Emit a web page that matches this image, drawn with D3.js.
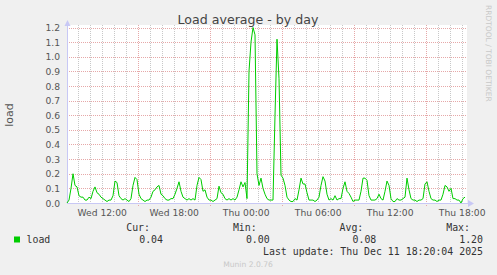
<!DOCTYPE html>
<html>
<head>
<meta charset="utf-8">
<script src="https://cdn.jsdelivr.net/npm/d3@7"></script>
<style>
  body { margin: 0; background: #f0f0f0; }
  svg { display: block; }
</style>
</head>
<body>
<div class="chart"></div>
<script>
// load average, one sample every 10 minutes starting Wed Dec 10 09:04
const startTime = new Date(2025, 11, 10, 9, 4);
const stepMinutes = 10;
const loadValues = [
  0.00, 0.02, 0.10, 0.20, 0.12, 0.11, 0.05, 0.04, 0.04, 0.02,
  0.02, 0.04, 0.03, 0.08, 0.11, 0.07, 0.06, 0.04, 0.03, 0.02,
  0.01, 0.02, 0.02, 0.05, 0.15, 0.14, 0.05, 0.03, 0.02, 0.03,
  0.02, 0.01, 0.03, 0.12, 0.175, 0.16, 0.06, 0.03, 0.02, 0.01,
  0.02, 0.02, 0.04, 0.08, 0.09, 0.11, 0.12, 0.06, 0.05, 0.03,
  0.02, 0.02, 0.03, 0.03, 0.06, 0.10, 0.145, 0.08, 0.04, 0.03,
  0.02, 0.03, 0.02, 0.03, 0.02, 0.12, 0.175, 0.16, 0.08, 0.09,
  0.04, 0.02, 0.02, 0.01, 0.02, 0.03, 0.115, 0.07, 0.06, 0.03,
  0.02, 0.03, 0.02, 0.03, 0.02, 0.04, 0.09, 0.145, 0.11, 0.14,
  0.03, 0.90, 1.10, 1.20, 1.15, 0.20, 0.12, 0.17, 0.10, 0.06,
  0.03, 0.02, 0.02, 0.02, 0.60, 1.12, 0.85, 0.19, 0.17, 0.12,
  0.04, 0.02, 0.01, 0.01, 0.03, 0.02, 0.09, 0.17, 0.13, 0.13,
  0.07, 0.02, 0.02, 0.02, 0.01, 0.02, 0.04, 0.12, 0.18, 0.15,
  0.06, 0.02, 0.03, 0.02, 0.05, 0.02, 0.03, 0.03, 0.10, 0.145,
  0.08, 0.065, 0.04, 0.01, 0.02, 0.02, 0.02, 0.08, 0.17, 0.17,
  0.155, 0.05, 0.02, 0.02, 0.02, 0.03, 0.06, 0.03, 0.02, 0.08,
  0.15, 0.12, 0.03, 0.01, 0.01, 0.03, 0.02, 0.02, 0.03, 0.04,
  0.17, 0.09, 0.03, 0.02, 0.02, 0.01, 0.02, 0.02, 0.03, 0.13,
  0.145, 0.08, 0.03, 0.02, 0.02, 0.01, 0.02, 0.02, 0.06, 0.12,
  0.11, 0.08, 0.10, 0.03, 0.03, 0.02, 0.02, 0.00, 0.03, 0.04
];
const yTicks = [0, 0.1, 0.2, 0.3, 0.4, 0.5, 0.6, 0.7, 0.8, 0.9, 1.0, 1.1, 1.2];
const xLabels = ["Wed 12:00", "Wed 18:00", "Thu 00:00", "Thu 06:00", "Thu 12:00", "Thu 18:00"];
const xLabelTimes = [
  new Date(2025, 11, 10, 12), new Date(2025, 11, 10, 18), new Date(2025, 11, 11, 0),
  new Date(2025, 11, 11, 6), new Date(2025, 11, 11, 12), new Date(2025, 11, 11, 18)
];
const legendHeaders = ["Cur:", "Min:", "Avg:", "Max:"];
const legendValues = ["0.04", "0.00", "0.08", "1.20"];

const W = 497, H = 275;
const plotLeft = 67, plotRight = 467, plotTop = 25, plotBottom = 203;
const endTime = new Date(startTime.getTime() + 400 * 5 * 60000);

const x = d3.scaleTime().domain([startTime, endTime]).range([plotLeft, plotRight]);
const y = d3.scaleLinear().domain([0, 1.2]).range([plotBottom, 27.5]);

const svg = d3.select(".chart").append("svg")
    .attr("width", W).attr("height", H);

svg.append("rect").attr("width", W).attr("height", H).attr("fill", "#f0f0f0");
svg.append("rect").attr("x", plotLeft).attr("y", plotTop)
    .attr("width", plotRight - plotLeft).attr("height", plotBottom - plotTop).attr("fill", "#fff");

// grid
const hours = d3.timeHour.every(1).range(startTime, endTime);
const minorHours = hours.filter(d => d.getHours() % 6 !== 3);
const majorHours = hours.filter(d => d.getHours() % 6 === 3);

svg.append("g").selectAll("line").data(minorHours).enter().append("line")
    .attr("x1", d => Math.round(x(d)) + 0.5).attr("x2", d => Math.round(x(d)) + 0.5)
    .attr("y1", plotTop).attr("y2", plotBottom + 2)
    .attr("stroke", "#c8c8c8").attr("stroke-dasharray", "1,1");

svg.append("g").selectAll("line").data(yTicks).enter().append("line")
    .attr("x1", plotLeft).attr("x2", plotRight)
    .attr("y1", d => Math.round(y(d)) + 0.5).attr("y2", d => Math.round(y(d)) + 0.5)
    .attr("stroke", "#e6a8a8").attr("stroke-dasharray", "1,1");

svg.append("g").selectAll("line").data(majorHours).enter().append("line")
    .attr("x1", d => Math.round(x(d)) + 0.5).attr("x2", d => Math.round(x(d)) + 0.5)
    .attr("y1", plotTop).attr("y2", plotBottom + 3)
    .attr("stroke", "#e6a8a8").attr("stroke-dasharray", "1,1");

// axes
const axisColor = "#c8c8f5";
svg.append("line").attr("x1", plotLeft + 0.5).attr("x2", plotLeft + 0.5)
    .attr("y1", plotBottom + 0.5).attr("y2", 24).attr("stroke", axisColor);
svg.append("line").attr("x1", plotLeft).attr("x2", 470)
    .attr("y1", plotBottom + 0.5).attr("y2", plotBottom + 0.5).attr("stroke", axisColor);
svg.append("path").attr("d", "M64.5,26 L67.5,20 L70.5,26 Z").attr("fill", axisColor);
svg.append("path").attr("d", "M468,200 L474,203.5 L468,207 Z").attr("fill", axisColor);

// data line
const line = d3.line()
    .x((d, i) => x(new Date(startTime.getTime() + i * stepMinutes * 60000)))
    .y(d => y(d));
svg.append("path").datum(loadValues)
    .attr("d", line).attr("fill", "none")
    .attr("stroke", "#00cc00").attr("stroke-width", 1);

// labels
const sans = "DejaVu Sans, sans-serif";
const mono = "DejaVu Sans Mono, monospace";

svg.append("g").selectAll("text").data(yTicks).enter().append("text")
    .attr("x", 60).attr("y", d => y(d) + 3.5)
    .attr("text-anchor", "end").attr("font-family", sans).attr("font-size", 9.2)
    .attr("fill", "#555").text(d => d.toFixed(1));

svg.append("g").selectAll("text").data(xLabelTimes).enter().append("text")
    .attr("x", d => x(d)).attr("y", 215.5)
    .attr("text-anchor", "middle").attr("font-family", sans).attr("font-size", 9.2)
    .attr("fill", "#555").text((d, i) => xLabels[i]);

svg.append("text").attr("x", 248).attr("y", 24)
    .attr("text-anchor", "middle").attr("font-family", sans).attr("font-size", 12.6)
    .attr("fill", "#444").text("Load average - by day");

svg.append("text").attr("transform", "translate(13,115) rotate(-90)")
    .attr("text-anchor", "middle").attr("font-family", sans).attr("font-size", 11)
    .attr("fill", "#555").text("load");

svg.append("text").attr("transform", "translate(486,5) rotate(90)")
    .attr("text-anchor", "start").attr("font-family", sans).attr("font-size", 7.5)
    .attr("fill", "#c8c8c8").text("RRDTOOL / TOBI OETIKER");

// legend
svg.append("rect").attr("x", 14).attr("y", 236.5).attr("width", 6).attr("height", 6)
    .attr("fill", "#00cc00");
svg.append("text").attr("x", 26.5).attr("y", 243)
    .attr("font-family", mono).attr("font-size", 9.9).attr("fill", "#333").text("load");

const colEnds = [150, 256.7, 363.3, 470];
svg.append("g").selectAll("text").data(legendHeaders).enter().append("text")
    .attr("x", (d, i) => colEnds[i]).attr("y", 231)
    .attr("text-anchor", "end").attr("font-family", mono).attr("font-size", 9.9)
    .attr("fill", "#333").text(d => d);
svg.append("g").selectAll("text").data(legendValues).enter().append("text")
    .attr("x", (d, i) => colEnds[i] + 13).attr("y", 243)
    .attr("text-anchor", "end").attr("font-family", mono).attr("font-size", 9.9)
    .attr("fill", "#333").text(d => d);

svg.append("text").attr("x", 483).attr("y", 255)
    .attr("text-anchor", "end").attr("font-family", mono).attr("font-size", 9.9)
    .attr("fill", "#333").text("Last update: Thu Dec 11 18:20:04 2025");

svg.append("text").attr("x", 248).attr("y", 267)
    .attr("text-anchor", "middle").attr("font-family", sans).attr("font-size", 7.6)
    .attr("fill", "#c8c8c8").text("Munin 2.0.76");
</script>
</body>
</html>
